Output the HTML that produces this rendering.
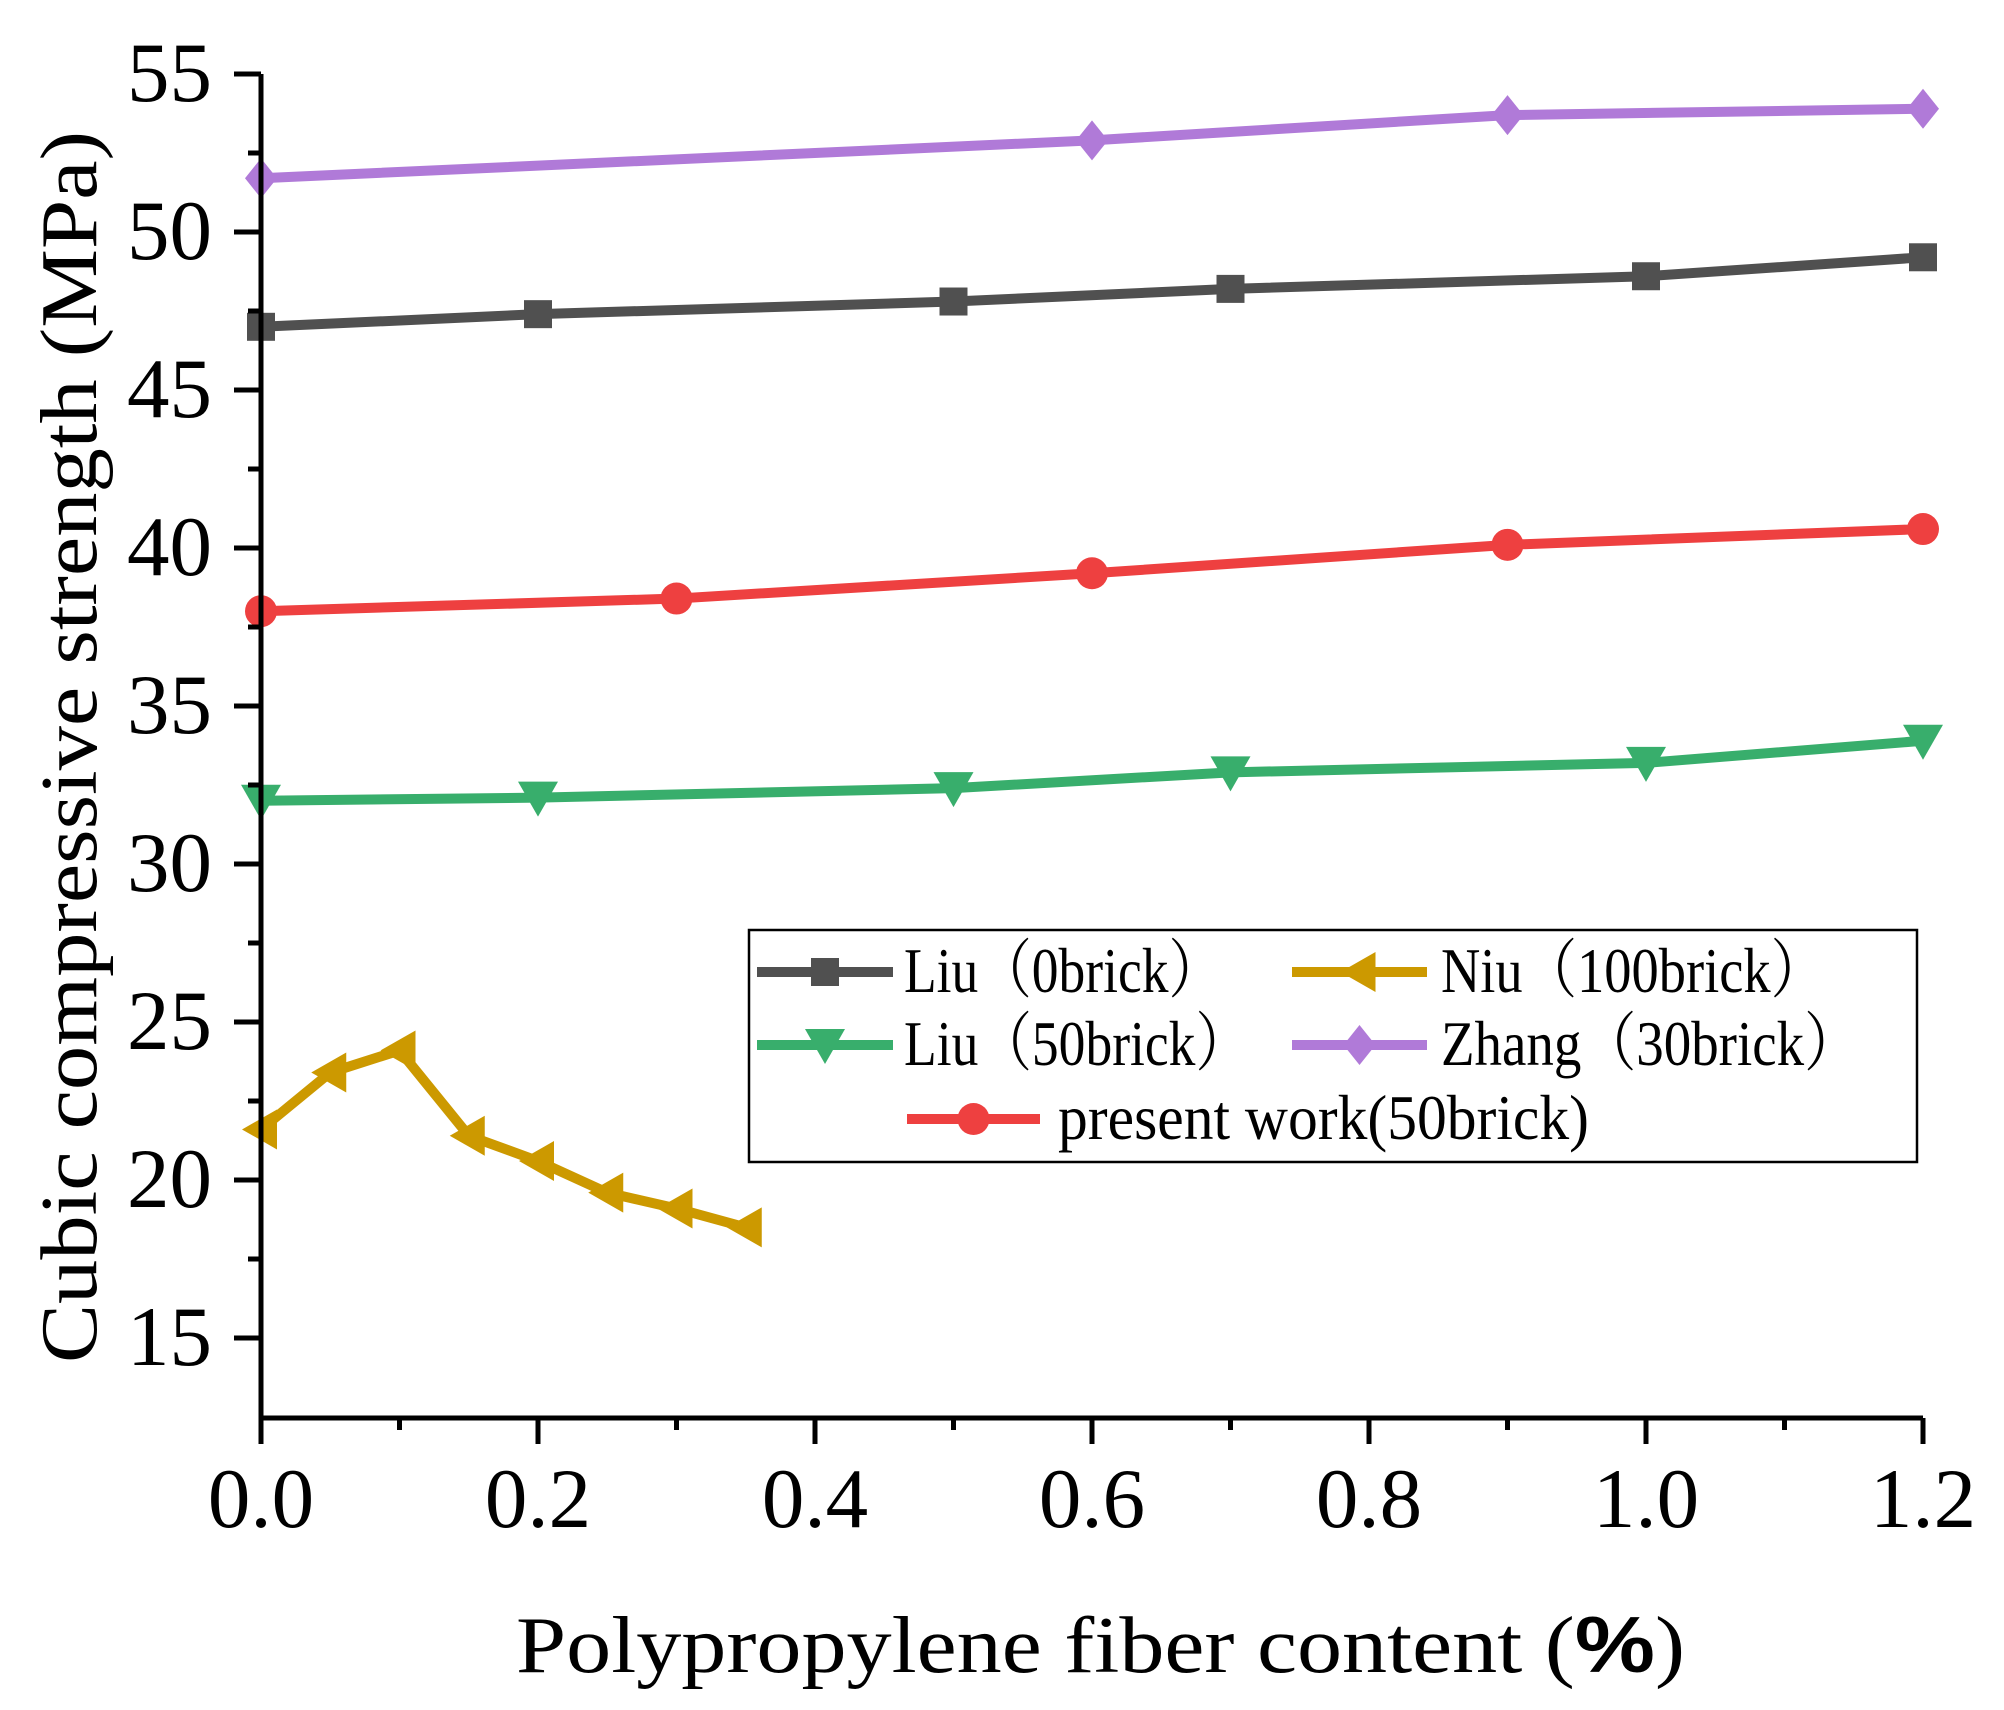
<!DOCTYPE html>
<html><head><meta charset="utf-8"><style>html,body{margin:0;padding:0;background:#fff}svg{display:block}svg text{font-family:"Liberation Serif","Noto Serif CJK SC",serif}</style></head>
<body>
<svg id="s" xmlns="http://www.w3.org/2000/svg" width="2004" height="1710" viewBox="0 0 2004 1710">
<rect width="2004" height="1710" fill="#fff"/>
<g id="plot"></g>
<g id="axes" stroke="#000" stroke-width="5" fill="none"></g>
<g font-size="85" fill="#000" text-anchor="end" id="ylab">
<text x="212" y="101">55</text><text x="212" y="259">50</text><text x="212" y="417">45</text><text x="212" y="575">40</text><text x="212" y="733">35</text><text x="212" y="891">30</text><text x="212" y="1049">25</text><text x="212" y="1207">20</text><text x="212" y="1365">15</text>
</g>
<g font-size="85" fill="#000" text-anchor="middle">
<text x="261" y="1527">0.0</text><text x="538" y="1527">0.2</text><text x="815" y="1527">0.4</text><text x="1092" y="1527">0.6</text><text x="1369" y="1527">0.8</text><text x="1646" y="1527">1.0</text><text x="1923" y="1527">1.2</text>
</g>
<text x="516" y="1672" font-size="80" textLength="1169" lengthAdjust="spacingAndGlyphs">Polypropylene fiber content (<tspan style="font-family:'Liberation Sans',sans-serif" font-weight="bold">%</tspan>)</text>
<text transform="translate(96,1363) rotate(-90)" font-size="80" textLength="1232" lengthAdjust="spacingAndGlyphs">Cubic compressive strength (MPa)</text>
<rect x="749" y="930" width="1168" height="232" fill="#fff" stroke="#000" stroke-width="2.5"/>
<g id="leg"></g>
<g font-size="64" fill="#000">
<text x="904" y="992" textLength="318" lengthAdjust="spacingAndGlyphs">Liu（0brick）</text>
<text x="1441" y="992" textLength="384" lengthAdjust="spacingAndGlyphs">Niu（100brick）</text>
<text x="904" y="1065" textLength="345" lengthAdjust="spacingAndGlyphs">Liu（50brick）</text>
<text x="1441" y="1065" textLength="418" lengthAdjust="spacingAndGlyphs">Zhang（30brick）</text>
<text x="1058" y="1139" textLength="531" lengthAdjust="spacingAndGlyphs">present work(50brick)</text>
</g>
</svg>
<script>
var NS="http://www.w3.org/2000/svg";
function X(x){return 261+1385*x}function Y(v){return 74+31.6*(55-v)}
function el(p,t,a){var e=document.createElementNS(NS,t);for(var k in a)e.setAttribute(k,a[k]);p.appendChild(e);return e}
var ax=document.getElementById('axes');
el(ax,'path',{d:'M261 74V1418H1923'});
for(var v=15;v<=55;v+=2.5){var y=Y(v);var maj=(v%5==0);el(ax,'line',{x1:maj?234:248,x2:261,y1:y,y2:y});}
for(var i=0;i<=12;i++){var x=X(i*0.1);el(ax,'line',{x1:x,x2:x,y1:1418,y2:(i%2==0)?1444:1430});}
function marker(g,type,cx,cy,c,s){s=s||1;
 if(type=='sq')el(g,'rect',{x:cx-14*s,y:cy-14*s,width:28*s,height:28*s,fill:c});
 else if(type=='ci')el(g,'circle',{cx:cx,cy:cy,r:16*s,fill:c});
 else if(type=='dn')el(g,'polygon',{points:(cx-20*s)+','+(cy-16*s)+' '+(cx+20*s)+','+(cy-16*s)+' '+cx+','+(cy+19*s),fill:c});
 else if(type=='lt')el(g,'polygon',{points:(cx-19*s)+','+cy+' '+(cx+16*s)+','+(cy-20*s)+' '+(cx+16*s)+','+(cy+20*s),fill:c});
 else if(type=='di')el(g,'polygon',{points:cx+','+(cy-20*s)+' '+(cx+16*s)+','+cy+' '+cx+','+(cy+20*s)+' '+(cx-16*s)+','+cy,fill:c});}
var series=[
 ['#b07ad8','di',[[0,51.7],[0.6,52.9],[0.9,53.7],[1.2,53.9]]],
 ['#505050','sq',[[0,47],[0.2,47.4],[0.5,47.8],[0.7,48.2],[1.0,48.6],[1.2,49.2]]],
 ['#ee4040','ci',[[0,38],[0.3,38.4],[0.6,39.2],[0.9,40.1],[1.2,40.6]]],
 ['#38ae6c','dn',[[0,32],[0.2,32.1],[0.5,32.4],[0.7,32.9],[1.0,33.2],[1.2,33.9]]],
 ['#cc9900','lt',[[0,21.6],[0.05,23.4],[0.1,24.1],[0.15,21.4],[0.2,20.6],[0.25,19.6],[0.3,19.1],[0.35,18.5]]]];
var pl=document.getElementById('plot');
series.forEach(function(s){var d=s[2].map(function(p,i){return (i?'L':'M')+X(p[0])+' '+Y(p[1])}).join('');
 el(pl,'path',{d:d,stroke:s[0],'stroke-width':10,fill:'none','stroke-linejoin':'round'});
 s[2].forEach(function(p){marker(pl,s[1],X(p[0]),Y(p[1]),s[0])});});
var lg=document.getElementById('leg');
[[757,893,972,'#505050','sq'],[1292,1427,972,'#cc9900','lt'],[757,893,1045,'#38ae6c','dn'],[1292,1427,1045,'#b07ad8','di'],[907,1040,1119,'#ee4040','ci']].forEach(function(r){
 el(lg,'line',{x1:r[0],x2:r[1],y1:r[2],y2:r[2],stroke:r[3],'stroke-width':10});marker(lg,r[4],(r[0]+r[1])/2,r[2],r[3],1);});
</script>
</body></html>
